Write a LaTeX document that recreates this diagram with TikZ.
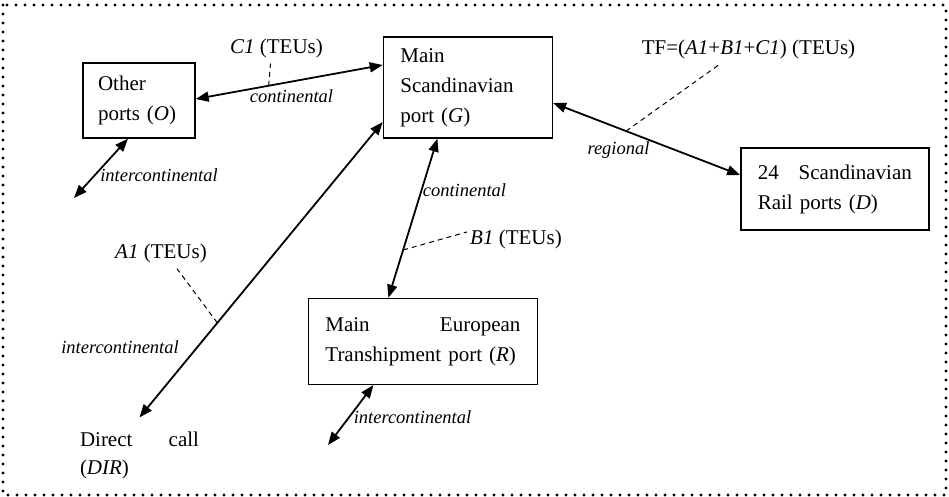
\documentclass[tikz,border=0pt]{standalone}
\usepackage{fontspec}
\setmainfont{Liberation Serif}
\usetikzlibrary{arrows.meta, positioning, calc}

\begin{document}
\begin{tikzpicture}[x=1pt, y=-1pt,
  portbox/.style={draw, line width=1.4pt, inner xsep=17pt, inner ysep=0pt, align=left, font=\fontsize{21}{30}\selectfont},
  tag/.style={font=\fontsize{21}{28}\selectfont, inner sep=0pt, anchor=base},
  note/.style={font=\fontsize{18.5}{22}\selectfont\itshape, inner sep=0pt, anchor=base},
  flow/.style={{Triangle[length=13pt,width=10pt]}-{Triangle[length=13pt,width=10pt]}, line width=1.8pt},
  lead/.style={dash pattern=on 5pt off 4pt, line width=1pt},
  node distance=187pt
]
\useasboundingbox (0,0) rectangle (949,497);
\draw[line width=3.3pt, line cap=round, dash pattern=on 0pt off 9pt] (3,5) rectangle (946,495);

\node[portbox, inner xsep=15pt, text width=82pt, minimum width=112pt, minimum height=75pt] (O) at (139,100.5) {Other\\ports~(\textit{O})};
\node[portbox, text width=135pt, minimum width=169pt, minimum height=101pt, right=187pt of O, yshift=13pt] (G) {Main\\Scandinavian\\port (\textit{G})};
\node[portbox, text width=154pt, minimum width=188pt, minimum height=82pt, right=187pt of G, yshift=-101.5pt] (D) {24\hfill Scandinavian\\Rail ports (\textit{D})};
\node[portbox, text width=195pt, minimum width=229pt, minimum height=86pt, below=159pt of G, xshift=-45pt] (R) {Main\hfill European\\Transhipment port (\textit{R})};
\node[tag, anchor=north, text width=119pt, align=left, below=292.7pt of O, xshift=0.5pt] (dir) {Direct\hfill call\\(\textit{DIR})};

\coordinate (oFree) at (74,198);
\coordinate (rFree) at (328,445);

\node[tag] (lblC1) at (276.5,54) {\textit{C1} (TEUs)};
\node[tag] (lblTF) at (748.5,55) {TF=(\textit{A1}+\textit{B1}+\textit{C1}) (TEUs)};
\node[tag] (lblB1) at (516,244) {\textit{B1} (TEUs)};
\node[tag] (lblA1) at (161,258) {\textit{A1} (TEUs)};
\node[note] (contOG) at (291.5,103) {continental};
\node[note] (contGR) at (464.5,196.5) {continental};
\node[note] (regl) at (618.5,155) {regional};
\node[note] (interO) at (159,182) {intercontinental};
\node[note] (interA) at (120,353) {intercontinental};
\node[note] (interR) at (412.5,423) {intercontinental};

\draw[flow] ([yshift=1.5pt]O.east) -- coordinate[pos=0.39] (c1pt) ([yshift=22.5pt]G.west);
\draw[flow] ([yshift=-15.5pt]G.east) -- coordinate[pos=0.39] (tfpt) ([yshift=14pt]D.west);
\draw[flow] ([xshift=-34.5pt]R.north) -- coordinate[pos=0.3] (b1pt) ([xshift=-30.5pt]G.south);
\draw[flow] ([yshift=14pt]dir.north) -- coordinate[pos=0.32] (a1pt) ([yshift=-34.5pt]G.west);
\draw[flow] (oFree) -- ([xshift=-11pt]O.south);
\draw[flow] (rFree) -- ([xshift=-49.5pt]R.south);

\draw[lead] (c1pt) -- ($(lblC1.south)+(-6,5)$);
\draw[lead] (tfpt) -- ($(lblTF.south)+(-28,4)$);
\draw[lead] (b1pt) -- ($(lblB1.west)+(-3,-7)$);
\draw[lead] (a1pt) -- ($(lblA1.south)+(16,6)$);
\end{tikzpicture}
\end{document}
